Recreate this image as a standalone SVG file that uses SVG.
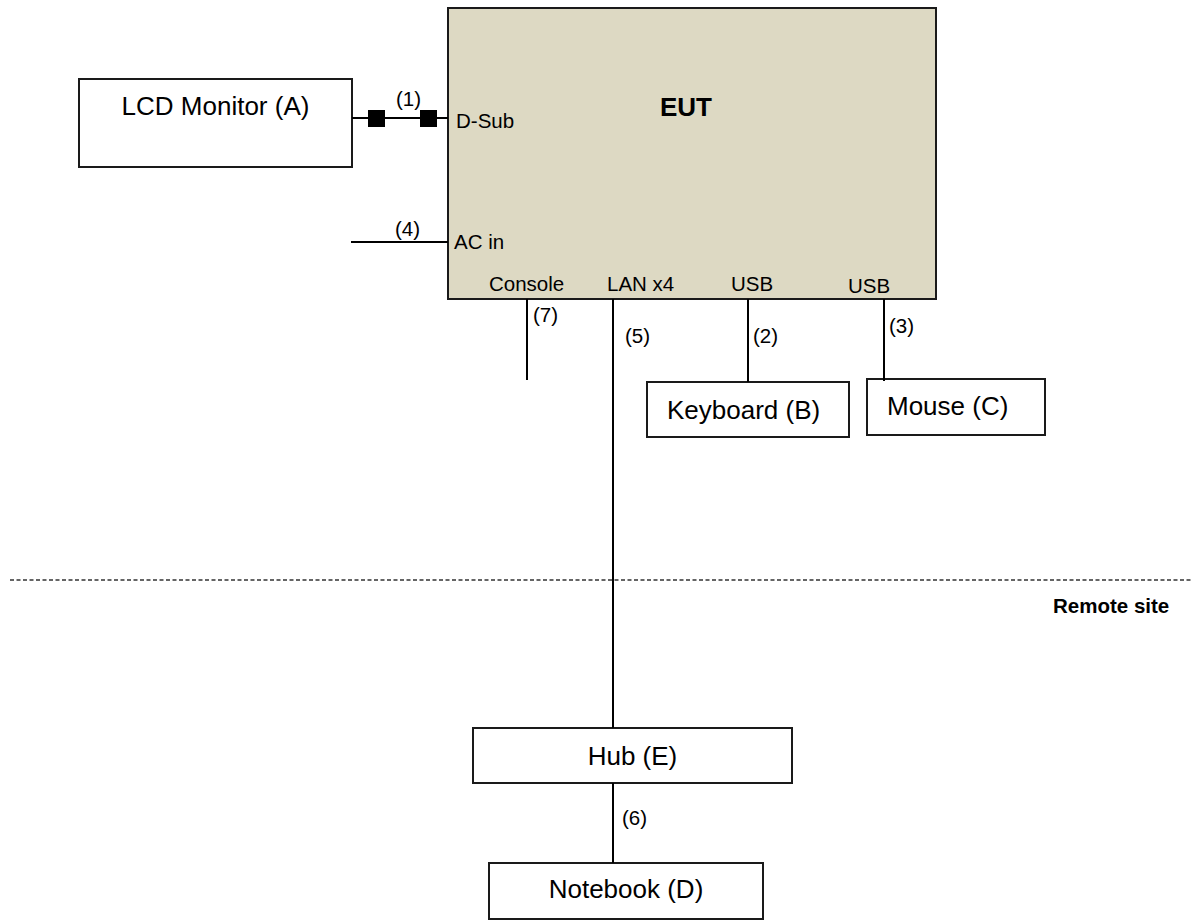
<svg xmlns="http://www.w3.org/2000/svg" width="1191" height="921" viewBox="0 0 1191 921">
<style>
.box{fill:#fff;stroke:#1a1a1a;stroke-width:2}
.eut{fill:#DDD9C3;stroke:#1a1a1a;stroke-width:2}
.ln{stroke:#000;stroke-width:2;fill:none}
.big{font-family:"Liberation Sans",Arial,sans-serif;font-size:26px;fill:#000}
.sm{font-family:"Liberation Sans",Arial,sans-serif;font-size:20.5px;fill:#000}
.bold{font-family:"Liberation Sans",Arial,sans-serif;font-weight:bold;fill:#000}
</style>
<rect width="1191" height="921" fill="#fff"/>
<g id="eut">
<rect class="eut" x="448" y="8" width="488" height="291"/>
<text class="bold" x="660" y="116" font-size="26">EUT</text>
<text class="sm" x="456" y="128">D-Sub</text>
<text class="sm" x="454" y="249">AC in</text>
<text class="sm" x="489" y="291">Console</text>
<text class="sm" x="607" y="291">LAN x4</text>
<text class="sm" x="731" y="291">USB</text>
<text class="sm" x="848" y="293">USB</text>
</g>
<g id="lcd-monitor">
<rect class="box" x="79" y="79" width="273" height="88"/>
<text class="big" x="215.5" y="115" text-anchor="middle">LCD Monitor (A)</text>
</g>
<g id="keyboard">
<rect class="box" x="647" y="382" width="202" height="55"/>
<text class="big" x="667" y="419">Keyboard (B)</text>
</g>
<g id="mouse">
<rect class="box" x="867" y="379" width="178" height="56"/>
<text class="big" x="887" y="415">Mouse (C)</text>
</g>
<g id="hub">
<rect class="box" x="473" y="728" width="319" height="55"/>
<text class="big" x="632.5" y="765" text-anchor="middle">Hub (E)</text>
</g>
<g id="notebook">
<rect class="box" x="489" y="863" width="274" height="56"/>
<text class="big" x="626" y="898" text-anchor="middle">Notebook (D)</text>
</g>
<g id="remote-site">
<line x1="10" y1="580" x2="1191" y2="580" stroke="#333" stroke-width="1.5" stroke-dasharray="4 2.5"/>
<text class="bold" x="1053" y="613" font-size="20.5">Remote site</text>
</g>
<g id="connectors">
<line class="ln" x1="352" y1="118" x2="448" y2="118"/>
<rect x="368" y="110" width="17" height="17" fill="#000"/>
<rect x="420" y="110" width="17" height="17" fill="#000"/>
<text class="sm" x="396" y="106">(1)</text>
<line class="ln" x1="351" y1="242" x2="448" y2="242"/>
<text class="sm" x="395" y="236">(4)</text>
<line class="ln" x1="527" y1="299" x2="527" y2="380"/>
<text class="sm" x="533" y="322">(7)</text>
<line class="ln" x1="613" y1="299" x2="613" y2="728"/>
<text class="sm" x="625" y="343">(5)</text>
<line class="ln" x1="748" y1="299" x2="748" y2="382"/>
<text class="sm" x="753" y="343">(2)</text>
<line class="ln" x1="884" y1="299" x2="884" y2="381"/>
<text class="sm" x="889" y="333">(3)</text>
<line class="ln" x1="613" y1="783" x2="613" y2="863"/>
<text class="sm" x="622" y="825">(6)</text>
</g>
</svg>
